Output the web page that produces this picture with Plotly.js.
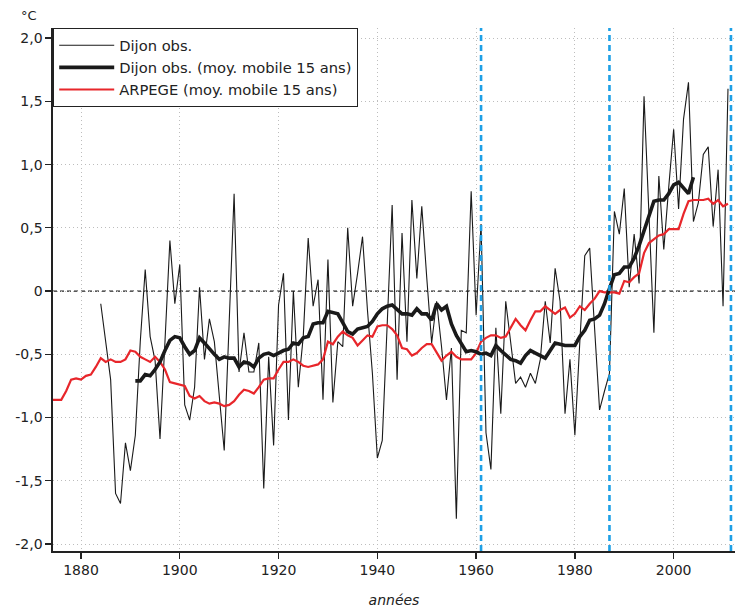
<!DOCTYPE html>
<html>
<head>
<meta charset="utf-8">
<script src="https://cdn.plot.ly/plotly-3.0.1.min.js"></script>
<style>
html,body{margin:0;padding:0;background:#fff;}
#chart{width:735px;height:608px;}
</style>
</head>
<body>
<div id="chart"></div>
<script>
// Annual Dijon observations (°C anomaly), 1884-2011
const obsStartYear = 1884;
const dijonObs = [
 -0.10,-0.42,-0.70,-1.60,-1.68,-1.20,-1.42,-1.14,-0.40, 0.17,
 -0.36,-0.55,-1.17,-0.40, 0.40,-0.10, 0.21,-0.90,-1.02,-0.76,
  0.03,-0.54,-0.22,-0.40,-0.83,-1.26,-0.25, 0.77,-0.64,-0.33,
 -0.64,-0.64,-0.41,-1.56,-0.52,-1.22,-0.11, 0.14,-1.02, 0.00,
 -0.76,-0.36, 0.42,-0.12, 0.09,-0.86, 0.25,-0.88,-0.40,-0.44,
  0.50,-0.12, 0.14, 0.43,-0.15,-0.65,-1.32,-1.18,-0.26, 0.68,
 -0.70, 0.46,-0.40, 0.72, 0.10, 0.67, 0.11,-0.41,-0.08,-0.44,
 -0.86,-0.45,-1.80,-0.31,-0.33, 0.79,-0.19, 0.53,-1.12,-1.41,
 -0.29,-0.97,-0.08,-0.40,-0.73,-0.68,-0.76,-0.65,-0.73,-0.54,
 -0.08,-0.41, 0.18,-0.08,-0.97,-0.54,-1.14,-0.40, 0.28, 0.34,
 -0.33,-0.94,-0.79,-0.65, 0.63, 0.45, 0.81, 0.03, 0.45, 0.06,
  1.54, 0.60,-0.33, 0.91, 0.33, 0.82, 1.28, 0.65, 1.36, 1.65,
  0.55, 0.70, 1.08, 1.14, 0.51, 0.96,-0.12, 1.60
];
// 15-year moving average of Dijon observations, 1891-2004
const maStartYear = 1891;
const dijonMA = [
 -0.71,-0.71,-0.66,-0.67,-0.62,-0.56,-0.47,-0.39,-0.36,-0.37,
 -0.44,-0.50,-0.47,-0.37,-0.41,-0.46,-0.50,-0.54,-0.52,-0.53,
 -0.53,-0.60,-0.56,-0.57,-0.60,-0.53,-0.50,-0.49,-0.51,-0.49,
 -0.47,-0.46,-0.41,-0.42,-0.37,-0.36,-0.26,-0.25,-0.25,-0.16,
 -0.17,-0.18,-0.25,-0.32,-0.34,-0.30,-0.29,-0.28,-0.24,-0.18,
 -0.14,-0.12,-0.11,-0.15,-0.18,-0.18,-0.19,-0.14,-0.18,-0.18,
 -0.23,-0.10,-0.15,-0.12,-0.26,-0.35,-0.41,-0.48,-0.47,-0.48,
 -0.50,-0.49,-0.51,-0.43,-0.47,-0.51,-0.54,-0.55,-0.57,-0.51,
 -0.47,-0.49,-0.51,-0.53,-0.47,-0.41,-0.42,-0.43,-0.43,-0.43,
 -0.36,-0.31,-0.23,-0.22,-0.19,-0.10, 0.02, 0.13, 0.14, 0.19,
  0.19, 0.26, 0.36, 0.48, 0.59, 0.71, 0.72, 0.72, 0.77, 0.84,
  0.86, 0.82, 0.77, 0.90
];
// ARPEGE 15-year moving average, 1874-2011
const arpStartYear = 1874;
const arpegeMA = [
 -0.86,-0.86,-0.86,-0.79,-0.70,-0.69,-0.70,-0.67,-0.66,-0.60,
 -0.53,-0.56,-0.54,-0.56,-0.56,-0.54,-0.47,-0.48,-0.52,-0.54,
 -0.56,-0.52,-0.56,-0.62,-0.72,-0.73,-0.74,-0.75,-0.83,-0.85,
 -0.83,-0.87,-0.89,-0.88,-0.89,-0.91,-0.90,-0.87,-0.82,-0.78,
 -0.79,-0.81,-0.76,-0.70,-0.69,-0.69,-0.62,-0.56,-0.56,-0.54,
 -0.56,-0.59,-0.60,-0.59,-0.58,-0.54,-0.40,-0.42,-0.36,-0.32,
 -0.35,-0.37,-0.43,-0.39,-0.35,-0.36,-0.28,-0.27,-0.27,-0.30,
 -0.35,-0.45,-0.46,-0.51,-0.49,-0.45,-0.42,-0.42,-0.49,-0.55,
 -0.51,-0.48,-0.52,-0.54,-0.54,-0.54,-0.49,-0.40,-0.37,-0.35,
 -0.35,-0.37,-0.36,-0.29,-0.22,-0.27,-0.31,-0.23,-0.16,-0.16,
 -0.12,-0.15,-0.18,-0.15,-0.13,-0.21,-0.18,-0.12,-0.15,-0.10,
 -0.06, 0.00,-0.01,-0.01,-0.01,-0.02, 0.08, 0.07, 0.11, 0.14,
  0.30, 0.38, 0.41, 0.44, 0.45, 0.49, 0.49, 0.49, 0.61, 0.71,
  0.72, 0.72, 0.72, 0.73, 0.69, 0.72, 0.67, 0.69
];
// Period boundaries (vertical dashed lines)
const periodYears = [1961, 1987, 2011.6];
// Tick labels
const xTickVals = [1880, 1900, 1920, 1940, 1960, 1980, 2000];
const yTickVals = [-2, -1.5, -1, -0.5, 0, 0.5, 1, 1.5, 2];
const yTickText = ["-2,0", "-1,5", "-1,0", "-0,5", "0", "0,5", "1,0", "1,5", "2,0"];
const seriesNames = ["Dijon obs.", "Dijon obs. (moy. mobile 15 ans)", "ARPEGE (moy. mobile 15 ans)"];

const yearsFrom = (start, arr) => arr.map((_, i) => start + i);

const FONT = "DejaVu Sans, Verdana, sans-serif";

const traces = [
  {x: yearsFrom(obsStartYear, dijonObs), y: dijonObs, type: "scatter", mode: "lines",
   name: seriesNames[0], line: {color: "#1a1a1a", width: 1.1}, legendrank: 1},
  {x: yearsFrom(arpStartYear, arpegeMA), y: arpegeMA, type: "scatter", mode: "lines",
   name: seriesNames[2], line: {color: "#e8262b", width: 2.2}, legendrank: 3},
  {x: yearsFrom(maStartYear, dijonMA), y: dijonMA, type: "scatter", mode: "lines",
   name: seriesNames[1], line: {color: "#1a1a1a", width: 3.6}, legendrank: 2}
];

const shapes = [
  {type: "line", xref: "paper", x0: 0, x1: 1, yref: "y", y0: 0, y1: 0,
   line: {color: "#222", width: 1.2, dash: "4px,3px"}, layer: "below"}
].concat(periodYears.map(yr => ({
  type: "line", xref: "x", x0: yr, x1: yr, yref: "paper", y0: 0, y1: 1,
  line: {color: "#1ea0e6", width: 2.6, dash: "6px,4px"}, layer: "above"
})));

const layout = {
  width: 735, height: 608,
  margin: {l: 53, r: 0, t: 28, b: 57},
  paper_bgcolor: "#fff", plot_bgcolor: "#fff",
  font: {family: FONT, size: 14, color: "#222"},
  showlegend: true,
  legend: {x: 0, y: 1, xanchor: "left", yanchor: "top", bgcolor: "#fff",
           bordercolor: "#222", borderwidth: 1.2, font: {family: FONT, size: 14.7, color: "#222"},
           itemwidth: 55, traceorder: "normal", entrywidth: 310, entrywidthmode: "pixels"},
  xaxis: {range: [1874.33, 2012.42], tickvals: xTickVals, ticks: "outside", ticklen: 6,
          tickwidth: 1.3, tickcolor: "#222", showline: true, linecolor: "#222", linewidth: 1.6,
          showgrid: true, gridcolor: "#bdbdbd", griddash: "1px,3px", gridwidth: 1,
          zeroline: false, tickfont: {size: 14, color: "#222"},
          title: {text: "<i>années</i>", font: {size: 14, color: "#222"}, standoff: 21}},
  yaxis: {range: [-2.055, 2.08], tickvals: yTickVals, ticktext: yTickText, ticks: "outside",
          ticklen: 6, tickwidth: 1.3, tickcolor: "#222", showline: true, linecolor: "#222",
          linewidth: 1.6, showgrid: true, gridcolor: "#bdbdbd", griddash: "1px,3px", gridwidth: 1,
          zeroline: false, tickfont: {size: 14, color: "#222"}},
  shapes: shapes,
  annotations: [
    {text: "°C", xref: "paper", yref: "paper", x: -0.035, y: 1.0, xanchor: "center", yanchor: "bottom",
     yshift: 3, showarrow: false, font: {family: FONT, size: 13, color: "#222"}}
  ]
};

Plotly.newPlot("chart", traces, layout, {displayModeBar: false, staticPlot: true});
</script>
</body>
</html>
